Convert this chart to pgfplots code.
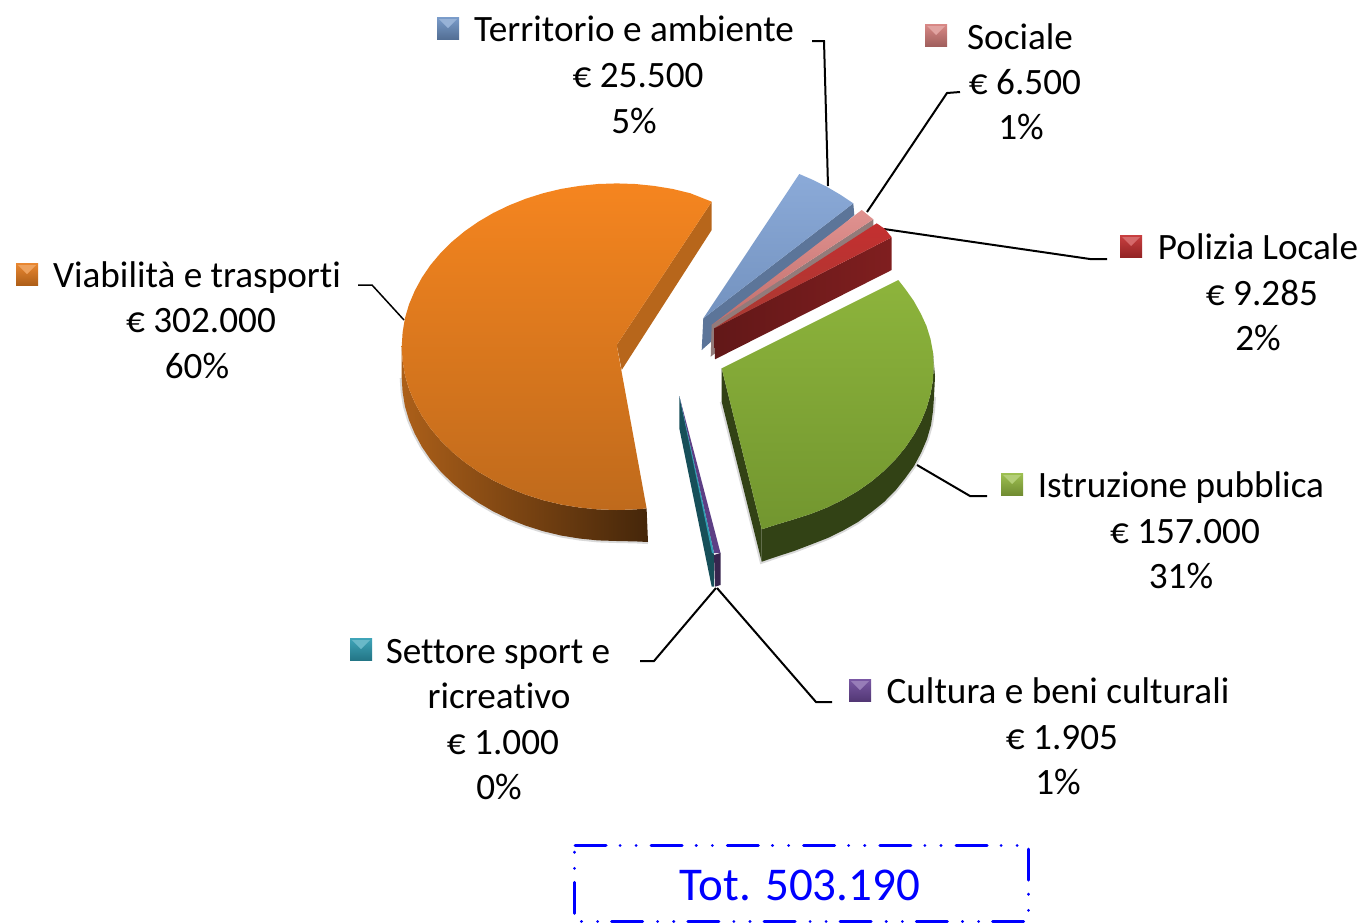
\documentclass[border=0pt]{standalone}
\usepackage{pgfplots}
\pgfplotsset{compat=1.18}
\usepackage{fontspec}
\setmainfont[Ligatures=CommonOff]{Carlito}
\newcommand{\lb}[3]{\node[anchor=base,inner sep=0pt,yshift=-1pt] at (axis cs:#1,#2) {\fontsize{37.2}{40}\selectfont #3};}
\newcommand{\keysq}[3]{%
 \addplot[draw=none,shade,top color=#3!92!white,bottom color=#3!75!black] coordinates {(#1,#2) (#1+22,#2) (#1+22,#2+22) (#1,#2+22)} --cycle;
 \addplot[draw=none,fill=#3!72!white] coordinates {(#1+2,#2+2) (#1+20,#2+2) (#1+11,#2+11)} --cycle;
}
\definecolor{orgT}{HTML}{F5851F}
\definecolor{orgB}{HTML}{BF6A1C}
\definecolor{bluT}{HTML}{8BAAD8}
\definecolor{bluB}{HTML}{7392BF}
\definecolor{grnT}{HTML}{8DB43C}
\definecolor{grnB}{HTML}{72962F}
\definecolor{redT}{HTML}{C42F30}
\definecolor{redB}{HTML}{A83A32}
\definecolor{pnkT}{HTML}{E09290}
\definecolor{pnkB}{HTML}{C06F6C}
\definecolor{orgK}{HTML}{E87E20}
\definecolor{bluK}{HTML}{6F94C6}
\definecolor{pnkK}{HTML}{D67F7C}
\definecolor{redK}{HTML}{C42F30}
\definecolor{grnK}{HTML}{96BB42}
\definecolor{tealK}{HTML}{2F9DB3}
\definecolor{purK}{HTML}{6E4A9C}
\begin{document}
\begin{tikzpicture}
\useasboundingbox (0,0) rectangle (1363pt,922pt);
\begin{axis}[at={(0,0)},anchor=south west,scale only axis,width=1363pt,height=922pt,
 xmin=0,xmax=1363,ymin=0,ymax=922,y dir=reverse,axis lines=none,clip=true]
% leader lines
\addplot[black,line width=2pt] coordinates {(812,41) (824,41) (828,186)};
\addplot[black,line width=2pt] coordinates {(960,92) (947,93) (867,212)};
\addplot[black,line width=2pt] coordinates {(1107,259) (1090,259) (884,229)};
\addplot[black,line width=2pt] coordinates {(987,496) (970,496) (917,465)};
\addplot[black,line width=2pt] coordinates {(832,702) (816,702) (717,588)};
\addplot[black,line width=2pt] coordinates {(640,661) (654,661) (716,588)};
\addplot[black,line width=1.5pt] coordinates {(358,285) (372,285) (404,320)};
% orange
\addplot[draw=black,draw opacity=0.15,line width=4pt,fill=none] coordinates {(401.7,378) (402.6,391.9) (404.9,406.1) (409,420) (414.7,433.5) (421.9,446.8) (430.5,459.4) (440.6,471.4) (452,482.7) (464.7,493.2) (478.5,502.8) (493.4,511.5) (509.2,519.1) (525.8,525.7) (543.2,531.2) (561,535.5) (579.4,538.5) (598,540.4) (616.7,541) (635.4,541.4) (648,542)};
\addplot[draw=none,shade,left color=orgB!90!black,middle color=black!45!orgB,right color=black!64!orgB] coordinates {(401.7,346.7) (402.6,360.9) (404.9,375.1) (409,389) (414.7,402.5) (421.9,415.8) (430.5,428.4) (440.6,440.4) (452,451.7) (464.7,462.2) (478.5,471.8) (493.4,480.5) (509.2,488.1) (525.8,494.7) (543.2,500.2) (561,504.5) (579.4,507.5) (598,509.4) (616.7,510) (635.4,509.4) (646.6,508.4) (648,542) (635.4,541.4) (616.7,541) (598,540.4) (579.4,538.5) (561,535.5) (543.2,531.2) (525.8,525.7) (509.2,519.1) (493.4,511.5) (478.5,502.8) (464.7,493.2) (452,482.7) (440.6,471.4) (430.5,459.4) (421.9,446.8) (414.7,433.5) (409,420) (404.9,406.1) (402.6,391.9) (401.7,378)} --cycle;
\addplot[draw=none,fill=black!4!orgB] coordinates {(711.7,201.7) (711.7,230) (621.7,370) (616.7,345)} --cycle;
\addplot[draw=none,shade,top color=orgT,bottom color=orgB] coordinates {(711.7,201.7) (690.2,193.2) (672.4,188.9) (654,185.9) (635.4,184) (616.7,183.4) (598,184) (579.4,185.9) (561,188.9) (543.2,193.2) (525.8,198.7) (509.2,205.3) (493.4,212.9) (478.5,221.6) (464.7,231.2) (452,241.7) (440.6,253) (430.5,265) (421.9,277.6) (414.7,290.9) (409,304.4) (404.9,318.3) (402.6,332.5) (401.7,346.7) (402.6,360.9) (404.9,375.1) (409,389) (414.7,402.5) (421.9,415.8) (430.5,428.4) (440.6,440.4) (452,451.7) (464.7,462.2) (478.5,471.8) (493.4,480.5) (509.2,488.1) (525.8,494.7) (543.2,500.2) (561,504.5) (579.4,507.5) (598,509.4) (616.7,510) (635.4,509.4) (646.6,508.4) (616.7,345)} --cycle;
% blue
\addplot[draw=none,fill=bluB!80!black] coordinates {(853.3,203.3) (854.3,215) (701.7,350) (703.3,318.3)} --cycle;
\addplot[draw=none,shade,top color=bluT,bottom color=bluB] coordinates {(703.3,318.3) (799.3,174) (812,179.5) (826.7,186.7) (840,194.5) (853.3,203.3)} --cycle;
% pink
\addplot[draw=none,fill=gray!70!pnkB] coordinates {(873.3,219.3) (873.3,230) (710.7,356.7) (711.7,325)} --cycle;
\addplot[draw=none,shade,top color=pnkT,bottom color=pnkB] coordinates {(711.7,325) (861.7,210) (873.3,219.3)} --cycle;
% red
\addplot[draw=none,shade,left color=black!50!redT,right color=black!35!redT] coordinates {(714.3,328.3) (891.7,237.3) (891.7,270) (715,359.3)} --cycle;
\addplot[draw=none,shade,top color=redT,bottom color=redB] coordinates {(714.3,328.3) (876.7,223.3) (885,229) (891.7,237.3)} --cycle;
% green
\addplot[draw=black,draw opacity=0.15,line width=4pt,fill=none] coordinates {(934,397) (933,411) (931,425) (927,439) (921,453) (914,466) (905,478.5) (895.4,490.5) (884,502) (871.6,512) (858,522) (843,530.5) (827.7,538) (811,544.5) (794,551) (777,556.5) (761.7,561.7) (721.7,401.7)};
\addplot[draw=none,fill=black!56!grnB] coordinates {(721.7,368.3) (721.7,401.7) (761.7,561.7) (761.7,529.3)} --cycle;
\addplot[draw=none,fill=black!56!grnB] coordinates {(932.9,351.8) (933.7,366) (932.9,380.2) (930.5,394.3) (926.5,408.2) (921,421.7) (913.8,434.9) (905.3,447.5) (895.4,459.5) (884.1,470.8) (871.6,481.3) (858,490.9) (843.3,499.5) (827.7,507.2) (811.3,513.7) (794.2,519.2) (776.6,524.5) (761.7,529.3) (761.7,561.7) (777,556.5) (794,551) (811,544.5) (827.7,538) (843,530.5) (858,522) (871.6,512) (884,502) (895.4,490.5) (905,478.5) (914,466) (921,453) (927,439) (931,425) (933,411) (934,397) (935,376.7)} --cycle;
\addplot[draw=none,shade,top color=grnT,bottom color=grnB] coordinates {(721.7,368.3) (898.3,280) (905.3,289) (913.8,301) (921,314) (926.5,326) (930.5,339) (932.9,351.8) (933.7,366) (932.9,380.2) (930.5,394.3) (926.5,408.2) (921,421.7) (913.8,434.9) (905.3,447.5) (895.4,459.5) (884.1,470.8) (871.6,481.3) (858,490.9) (843.3,499.5) (827.7,507.2) (811.3,513.7) (794.2,519.2) (776.6,524.5) (761.7,529.3)} --cycle;
% sliver
\addplot[draw=none,fill=tealK!50!black] coordinates {(679.3,396) (679.3,428.3) (711.7,586.7) (714,586.7) (714,555)} --cycle;
\addplot[draw=none,fill=purK!85!black] coordinates {(679.3,396) (714,553) (720.5,553)} --cycle;
\addplot[draw=none,fill=tealK] coordinates {(679.3,396) (712,553) (714,553)} --cycle;
\addplot[draw=none,fill=purK!50!black] coordinates {(714,555) (720.5,553) (720.5,585) (715,586.7)} --cycle;
% keys
\keysq{437}{17}{bluK}
\keysq{925}{24}{pnkK}
\keysq{1120}{235}{redK}
\keysq{16}{263}{orgK}
\keysq{1001}{473}{grnK}
\keysq{350}{638}{tealK}
\keysq{849}{679}{purK}
% total box
\addplot[blue,line width=3pt,line cap=round,dash pattern=on 31pt off 14pt on 0.1pt off 16pt on 0.1pt off 15pt] coordinates {(575,845) (1028,845) (1028,921) (574,921) (574,845)};
\node[anchor=base,inner sep=0pt,text=blue] at (axis cs:800,900) {\fontsize{47}{50}\selectfont Tot. 503.190};
% labels
\lb{634}{40}{Territorio e ambiente}
\lb{638}{86}{€ 25.500}
\lb{634}{132}{5\%}
\lb{1020}{48}{Sociale}
\lb{1025}{93}{€ 6.500}
\lb{1021}{138}{1\%}
\lb{1258}{258}{Polizia Locale}
\lb{1262}{304}{€ 9.285}
\lb{1258}{349}{2\%}
\lb{197}{286}{Viabilità e trasporti}
\lb{201}{331}{€ 302.000}
\lb{197}{377}{60\%}
\lb{1181}{496}{Istruzione pubblica}
\lb{1185}{542}{€ 157.000}
\lb{1181}{587}{31\%}
\lb{498}{662}{Settore sport e}
\lb{499}{707}{ricreativo}
\lb{503}{753}{€ 1.000}
\lb{499}{798}{0\%}
\lb{1058}{702}{Cultura e beni culturali}
\lb{1062}{748}{€ 1.905}
\lb{1058}{793}{1\%}
\end{axis}
\end{tikzpicture}
\end{document}
